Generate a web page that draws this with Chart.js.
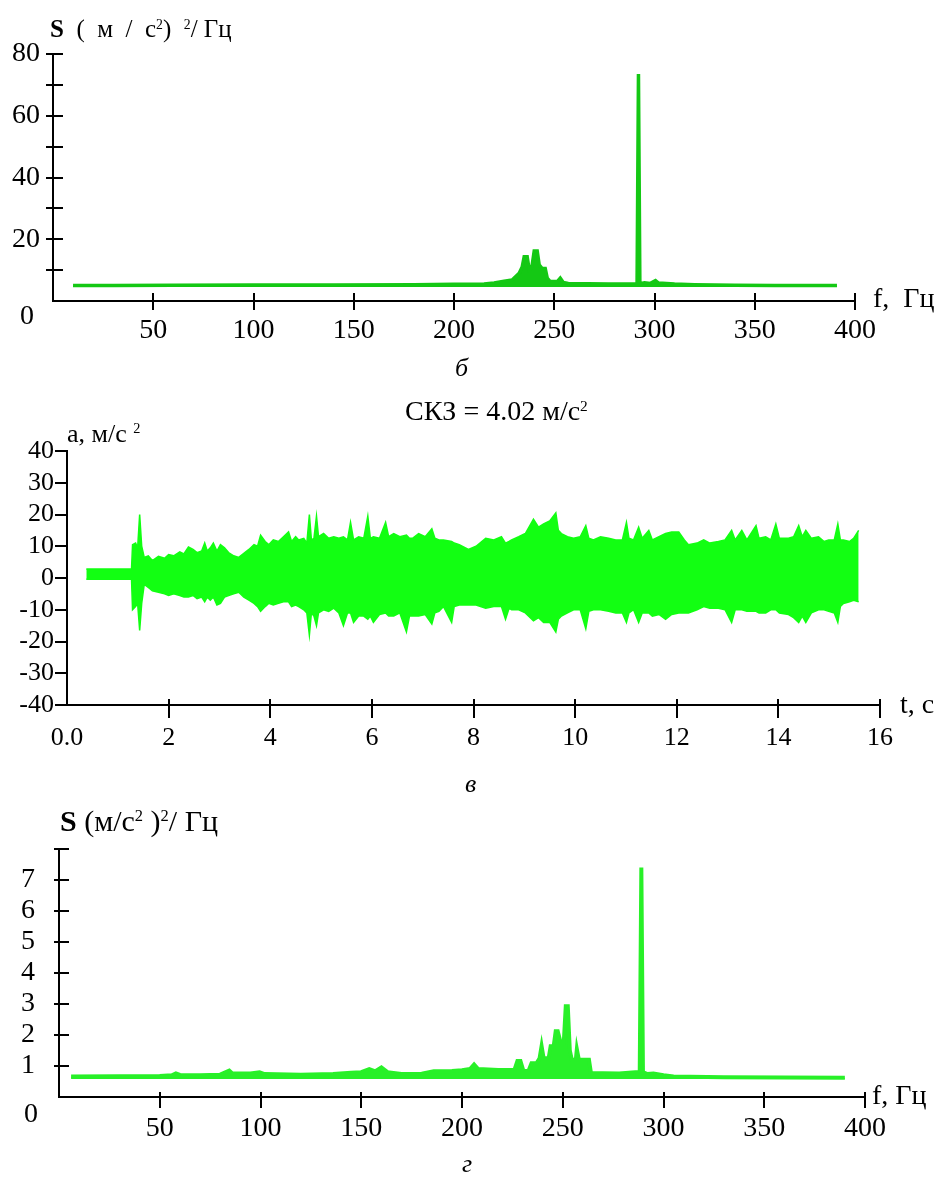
<!DOCTYPE html>
<html>
<head>
<meta charset="utf-8">
<script src="https://cdn.jsdelivr.net/npm/chart.js@4.4.1/dist/chart.umd.min.js"></script>
<style>
  html, body { margin: 0; padding: 0; background: #fff; }
  #page { position: relative; width: 947px; height: 1183px; overflow: hidden;
          font-family: "Liberation Serif", "Times New Roman", serif; color: #000; }
  .box { position: absolute; left: 0; width: 947px; }
  .txt { position: absolute; white-space: nowrap; line-height: 1; }
  .txt sup { font-size: 0.55em; position: relative; top: -0.6em; vertical-align: baseline; line-height: 0; }
  .it { font-style: italic; }
</style>
</head>
<body>
<div id="page">
  <div class="box" style="top:0;height:360px"><canvas id="chartB" width="947" height="360"></canvas></div>
  <div class="box" style="top:360px;height:400px"><canvas id="chartV" width="947" height="400"></canvas></div>
  <div class="box" style="top:760px;height:423px"><canvas id="chartG" width="947" height="423"></canvas></div>

  <div class="txt" style="left:50px;top:16px;font-size:25px"><b>S</b>&nbsp; (&nbsp; м&nbsp; /&nbsp; с<sup>2</sup>)&nbsp;&nbsp;<sup>2</sup>/&nbsp;Гц</div>
  <div class="txt" style="left:20px;top:301px;font-size:28px">0</div>
  <div class="txt" style="left:873px;top:284px;font-size:28px">f,&nbsp; Гц</div>
  <div class="txt it" style="left:455px;top:355px;font-size:26px">б</div>

  <div class="txt" style="left:405px;top:397px;font-size:28px">СКЗ = 4.02 м/с<sup>2</sup></div>
  <div class="txt" style="left:67px;top:421px;font-size:26px">a, м/с <sup>2</sup></div>
  <div class="txt" style="left:900px;top:690px;font-size:28px">t, c</div>
  <div class="txt it" style="left:465px;top:771px;font-size:26px">в</div>

  <div class="txt" style="left:60px;top:806px;font-size:30px"><b>S</b> (м/с<sup>2</sup> )<sup>2</sup>/ Гц</div>
  <div class="txt" style="left:24px;top:1099px;font-size:28px">0</div>
  <div class="txt" style="left:872px;top:1081px;font-size:28px">f, Гц</div>
  <div class="txt it" style="left:462px;top:1151px;font-size:26px">г</div>
</div>

<script>
// spectrum (б)
const freqB = [10, 30, 60, 100, 140, 180, 200, 207, 215, 220,
  225, 229, 232.5, 234, 235, 236.5, 237.5, 238.5, 239, 240,
  241.5, 242.5, 244, 245.5, 246.5, 248, 251.5, 253, 254.5, 257,
  267, 277, 285, 291.3, 292, 292.7, 295, 298, 300.5, 302,
  310, 320, 340, 360, 391];
const psdB = [5.0, 5.0, 5.1, 5.2, 5.2, 5.3, 5.4, 5.4, 5.5, 5.8,
  6.4, 6.8, 9.0, 11.0, 14.3, 14.3, 10.1, 10.5, 11.7, 16.2,
  16.2, 11.7, 10.5, 10.5, 7.4, 6.3, 6.3, 7.4, 6.0, 5.7,
  5.6, 5.5, 5.5, 5.5, 73.5, 5.6, 5.9, 5.7, 6.6, 5.8,
  5.5, 5.3, 5.1, 5.0, 5.0];
const fTicks = [0, 50, 100, 150, 200, 250, 300, 350, 400];
const yTicksB = [0, 10, 20, 30, 40, 50, 60, 70, 80];
const yLabelsB = [20, 40, 60, 80];

// time signal (в): upper and lower edge of the trace
const tSig = [0.38, 1.27, 1.29, 1.35, 1.39, 1.43, 1.47, 1.52, 1.60, 1.68,
  1.80, 1.92, 2.00, 2.10, 2.22, 2.30, 2.39, 2.48, 2.56, 2.65,
  2.71, 2.76, 2.82, 2.88, 2.95, 3.02, 3.10, 3.18, 3.28, 3.38,
  3.48, 3.58, 3.68, 3.75, 3.81, 3.90, 3.97, 4.06, 4.16, 4.26,
  4.36, 4.42, 4.50, 4.56, 4.66, 4.72, 4.77, 4.81, 4.86, 4.91,
  4.95, 5.05, 5.15, 5.25, 5.35, 5.44, 5.52, 5.58, 5.64, 5.74,
  5.84, 5.92, 5.97, 6.03, 6.15, 6.27, 6.33, 6.43, 6.55, 6.68,
  6.74, 6.80, 6.92, 7.05, 7.18, 7.24, 7.32, 7.41, 7.57, 7.62,
  7.72, 7.90, 8.05, 8.24, 8.40, 8.55, 8.63, 8.70, 8.75, 8.89,
  9.02, 9.18, 9.28, 9.38, 9.50, 9.62, 9.67, 9.73, 9.85, 9.97,
  10.10, 10.21, 10.27, 10.36, 10.50, 10.66, 10.80, 10.93, 11.01, 11.06,
  11.15, 11.25, 11.32, 11.45, 11.52, 11.65, 11.78, 11.90, 12.04, 12.15,
  12.23, 12.40, 12.53, 12.65, 12.82, 12.95, 13.08, 13.15, 13.28, 13.38,
  13.56, 13.62, 13.75, 13.85, 13.95, 14.02, 14.20, 14.30, 14.40, 14.47,
  14.54, 14.65, 14.79, 14.90, 14.99, 15.10, 15.17, 15.22, 15.28, 15.40,
  15.48, 15.58];
const upSig = [2.8, 2.8, 10.5, 11, 9.5, 20, 10, 6.5, 7, 5.5,
  6.8, 6.2, 7.4, 7.0, 8.2, 7.6, 9.8, 9.0, 8.0, 8.5,
  11, 8.5, 9.5, 11, 8.5, 10.5, 9.5, 8, 7.0, 6.5,
  7.8, 9, 10.5, 10, 13.5, 11.5, 10.5, 12, 11.5, 13,
  14.5, 11.5, 13, 12, 12.5, 11, 20, 12, 12.5, 19.5,
  13, 14, 12.5, 13, 12.5, 13, 12, 17.5, 12, 13,
  12.5, 19.5, 12.5, 13, 12.5, 17.5, 13, 14, 13, 13.5,
  12.5, 12.5, 14, 13, 15.5, 12.5, 12, 12, 11.5, 11,
  10.5, 9, 10, 12.5, 12, 13, 11, 11.5, 12, 13,
  14, 18.5, 16, 17, 18, 20.5, 15, 14, 13, 12.5,
  13, 16.5, 12.5, 12, 13, 12.5, 12, 12, 17.5, 12.5,
  12, 16, 12.5, 15, 12, 13, 14, 14.5, 14.5, 12,
  10.5, 11, 12, 11, 11.5, 12, 15, 12, 15, 12,
  16.5, 12.5, 13, 12, 17, 12.5, 12.5, 13, 16.5, 13,
  15, 12.5, 13, 11.5, 12, 12, 17, 12, 12, 11.5,
  12.5, 15];
const lowSig = [-0.4, -0.4, -10, -9, -8, -16.5, -8, -2, -3, -4,
  -4.5, -5, -5.5, -5, -5.5, -6, -6, -5.5, -6.5, -6,
  -7.5, -6, -7, -6, -8.5, -8, -6, -5.5, -5, -4.5,
  -6, -7, -8, -9, -10.5, -9, -8, -8.5, -8, -7.5,
  -7.5, -9, -8.5, -9, -10, -11, -18, -11, -12, -15,
  -11, -10, -10.5, -9.5, -11, -15, -11, -11, -14, -12,
  -12, -13, -12, -14, -11.5, -11, -12, -12, -11, -17,
  -12, -12, -12, -11.5, -14.5, -11, -10.5, -9, -14, -9,
  -8.5, -8.5, -8.5, -9.5, -9, -9, -13, -9.5, -10, -10,
  -11, -13.5, -12.5, -14, -14, -17, -13, -12, -11, -10,
  -10, -16, -10.5, -10, -10, -10.5, -11, -11, -14, -11,
  -10, -14, -11, -11, -12, -11.5, -13, -11.5, -11, -11,
  -11, -10, -9, -9.5, -9.5, -10, -14, -10, -10, -10.5,
  -10.5, -11, -11, -10, -10, -11, -11.5, -12.5, -14, -12,
  -14, -11, -10, -10, -10.5, -11, -14, -9, -8, -7.5,
  -7, -7.5];
const tTicks = [0, 2, 4, 6, 8, 10, 12, 14, 16];
const aTicks = [-40, -30, -20, -10, 0, 10, 20, 30, 40];

// spectrum (г)
const freqG = [6, 30, 50, 56, 58, 60, 70, 80, 84.5, 86,
  95, 99.5, 102, 120, 136, 145, 150, 154, 157, 160,
  163, 170, 180, 186, 195, 200, 204, 206, 208, 218,
  226, 227.5, 229, 230.5, 233, 234.5, 237, 238.5, 239.5, 240.5,
  242, 243, 244, 245.5, 246.5, 247.5, 249, 250.5, 251.5, 252.5,
  253.5, 254.5, 256.5, 257, 258, 263, 264, 270, 278, 286,
  288.2, 289, 289.8, 292, 295, 300, 305, 330, 360, 390];
const psdG = [0.66, 0.67, 0.68, 0.7, 0.76, 0.71, 0.7, 0.72, 0.85, 0.76,
  0.76, 0.8, 0.74, 0.72, 0.74, 0.78, 0.8, 0.9, 0.83, 0.95,
  0.8, 0.74, 0.75, 0.83, 0.84, 0.86, 0.9, 1.05, 0.9, 0.87,
  0.87, 1.16, 1.16, 0.84, 0.84, 1.09, 1.09, 1.25, 1.64, 1.25,
  1.25, 1.25, 1.64, 1.64, 2.12, 2.12, 1.74, 1.74, 2.93, 2.93,
  1.5, 1.2, 1.2, 1.54, 1.2, 1.2, 0.77, 0.77, 0.76, 0.8,
  0.8, 7.4, 0.8, 0.74, 0.76, 0.7, 0.66, 0.64, 0.63, 0.62];
const yTicksG = [0, 1, 2, 3, 4, 5, 6, 7, 8];
const yLabelsG = [1, 2, 3, 4, 5, 6, 7];

const FONT = '"Liberation Serif", "Times New Roman", serif';

// draws the part of each tick mark that sits inside the plot
const innerTicks = {
    id: 'innerTicks',
    afterDraw(chart, args, opts) {
        const ctx = chart.ctx;
        const a = chart.chartArea;
        const xs = chart.scales.x;
        const ys = chart.scales.y;
        ctx.save();
        ctx.strokeStyle = '#000';
        ctx.lineWidth = 2;
        ctx.beginPath();
        xs.ticks.forEach(t => {
            if (t.value === xs.min || !opts.x) return;
            const px = Math.round(xs.getPixelForValue(t.value));
            ctx.moveTo(px, a.bottom);
            ctx.lineTo(px, a.bottom - opts.x);
        });
        ys.ticks.forEach(t => {
            if (t.value === ys.min || !opts.y) return;
            const py = Math.round(ys.getPixelForValue(t.value));
            ctx.moveTo(a.left, py);
            ctx.lineTo(a.left + opts.y, py);
        });
        ctx.stroke();
        ctx.restore();
    }
};

function axis(o) {
    return {
        type: 'linear',
        min: o.ticks[0],
        max: o.ticks[o.ticks.length - 1],
        afterBuildTicks: s => { s.ticks = o.ticks.map(v => ({ value: v })); },
        afterFit: s => { if (o.width) s.width = o.width; if (o.height) s.height = o.height; },
        border: { display: true, color: '#000', width: 2 },
        grid: {
            display: true,
            drawOnChartArea: false,
            drawTicks: true,
            tickLength: o.tickLength,
            lineWidth: 2,
            color: c => (c.tick && c.tick.value === o.ticks[0] && o.hideFirst) ? 'rgba(0,0,0,0)' : '#000'
        },
        ticks: {
            autoSkip: false,
            maxRotation: 0,
            padding: o.padding,
            color: '#000',
            font: { family: FONT, size: o.fontSize },
            callback: o.label
        }
    };
}

function pts(xs, ys) {
    return xs.map((x, i) => ({ x: x, y: ys[i] }));
}

function baseOptions(pad, scales, inner) {
    return {
        responsive: false,
        animation: false,
        events: [],
        layout: { padding: pad },
        plugins: { legend: { display: false }, tooltip: { enabled: false }, innerTicks: inner },
        elements: { point: { radius: 0 }, line: { tension: 0 } },
        scales: scales
    };
}

// chart б
new Chart(document.getElementById('chartB'), {
    type: 'line',
    data: {
        datasets: [{
            data: pts(freqB, psdB),
            borderColor: 'rgb(20, 200, 20)',
            backgroundColor: 'rgb(20, 200, 20)',
            borderWidth: 3.5,
            fill: { value: 4.5 }
        }]
    },
    options: baseOptions({ left: 0, top: 54, right: 92, bottom: 19 }, {
        x: axis({ ticks: fTicks, height: 40, tickLength: 9, padding: 4, fontSize: 28, hideFirst: true,
            label: v => v === 0 ? '' : String(v) }),
        y: axis({ ticks: yTicksB, width: 53, tickLength: 7, padding: 6, fontSize: 28, hideFirst: true,
            label: v => yLabelsB.includes(v) ? String(v) : '' })
    }, { x: 8, y: 10 }),
    plugins: [innerTicks]
});

// chart в
new Chart(document.getElementById('chartV'), {
    type: 'line',
    data: {
        datasets: [{
            data: pts(tSig, upSig),
            borderColor: 'rgb(18, 255, 18)',
            backgroundColor: 'rgb(18, 255, 18)',
            borderWidth: 1.5,
            fill: '+1'
        }, {
            data: pts(tSig, lowSig),
            borderColor: 'rgb(18, 255, 18)',
            borderWidth: 1.5,
            fill: false
        }]
    },
    options: baseOptions({ left: 0, top: 91, right: 67, bottom: 10 }, {
        x: axis({ ticks: tTicks, height: 45, tickLength: 13, padding: 5, fontSize: 26, hideFirst: true,
            label: v => v === 0 ? '0.0' : String(v) }),
        y: axis({ ticks: aTicks, width: 67, tickLength: 12, padding: 1, fontSize: 26, hideFirst: false,
            label: v => String(v) })
    }, { x: 6, y: 0 }),
    plugins: [innerTicks]
});

// chart г
new Chart(document.getElementById('chartG'), {
    type: 'line',
    data: {
        datasets: [{
            data: pts(freqG, psdG),
            borderColor: 'rgb(40, 240, 40)',
            backgroundColor: 'rgb(40, 240, 40)',
            borderWidth: 4,
            fill: { value: 0.58 }
        }]
    },
    options: baseOptions({ left: 0, top: 89, right: 82, bottom: 36 }, {
        x: axis({ ticks: fTicks, height: 50, tickLength: 11, padding: 4, fontSize: 28, hideFirst: true,
            label: v => v === 0 ? '' : String(v) }),
        y: axis({ ticks: yTicksG, width: 59, tickLength: 5, padding: 19, fontSize: 28, hideFirst: true,
            label: v => yLabelsG.includes(v) ? String(v) : '' })
    }, { x: 5, y: 10 }),
    plugins: [innerTicks]
});
</script>
</body>
</html>
